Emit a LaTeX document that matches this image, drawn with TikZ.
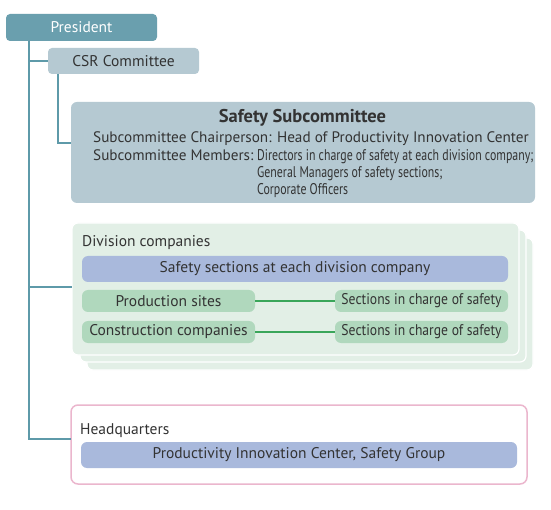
\documentclass[tikz,border=0pt]{standalone}
\usepackage{fontspec}
\setmainfont{PT Sans}
\usetikzlibrary{calc}
\definecolor{presC}{HTML}{6A9FAE}
\definecolor{csrC}{HTML}{B5C9D2}
\definecolor{lineC}{HTML}{5E9AA9}
\definecolor{stackC}{HTML}{E2EFE6}
\definecolor{blueC}{HTML}{A9B9DC}
\definecolor{greenC}{HTML}{B0D8BD}
\definecolor{glineC}{HTML}{3AA65A}
\definecolor{pinkC}{HTML}{EBB6CD}
\definecolor{txtC}{HTML}{333333}
\newcommand\cond[1]{\scalebox{0.765}[1]{#1}}
\newcommand\condb[1]{\scalebox{0.88}[1]{#1}}
\begin{document}
\begin{tikzpicture}[x=1pt,y=-1pt,
  font=\fontsize{15.5}{18}\selectfont, text=txtC,
  box/.style={rounded corners=4pt, inner sep=0pt, outer sep=0pt, anchor=north west},
  stackbox/.style={box, rounded corners=6pt, fill=stackC, draw=white, line width=1.2pt, minimum height=132pt},
  conn/.style={draw=lineC, line width=1.2pt},
  gconn/.style={draw=glineC, line width=1.2pt},
  lbl/.style={inner sep=0pt, anchor=base west}]
\useasboundingbox (0,0) rectangle (551,510);
\fill[white] (0,0) rectangle (551,510);

% top
\node[box, fill=presC, text=white, minimum width=151pt, minimum height=27pt] (pres) at (6,14) {President};
\node[box, fill=csrC, minimum width=151pt, minimum height=26pt] (csr) at (48,48) {CSR Committee};

% safety subcommittee
\node[box, rounded corners=6pt, fill=csrC, minimum width=464pt, minimum height=101pt] (sub) at (71,102) {};
\node[inner sep=0pt, anchor=base, font=\fontsize{18.5}{21}\selectfont\bfseries] (subt) at (302.5,123) {Safety Subcommittee};
\node[lbl, font=\fontsize{15.2}{18}\selectfont] (chair) at (93,143) {Subcommittee Chairperson: Head of Productivity Innovation Center};
\node[lbl, font=\fontsize{15.2}{18}\selectfont] (memb) at (93,161) {Subcommittee Members:};
\node[lbl] (m1) at (257,161) {\cond{Directors in charge of safety at each division company;}};
\node[lbl] (m2) at (257,178) {\cond{General Managers of safety sections;}};
\node[lbl] (m3) at (257,195) {\cond{Corporate Officers}};

% division companies
\node[stackbox, minimum width=446pt] (div3) at (87,238) {};
\node[stackbox, minimum width=446pt] (div2) at (80,230) {};
\node[stackbox, minimum width=447pt] (div) at (72,223) {};
\node[lbl] (divl) at (82,247) {Division companies};
\node[box, fill=blueC, rounded corners=6pt, minimum width=426pt, minimum height=26pt] (ssec) at (82,256) {Safety sections at each division company};
\node[box, fill=greenC, rounded corners=6pt, minimum width=173pt, minimum height=22pt] (prod) at (82,290) {Production sites};
\node[box, fill=greenC, rounded corners=6pt, minimum width=173pt, minimum height=22pt] (sec1) at (335,290) {\condb{Sections in charge of safety}};
\node[box, fill=greenC, rounded corners=6pt, minimum width=173pt, minimum height=22pt] (cons) at (82,321) {Construction companies};
\node[box, fill=greenC, rounded corners=6pt, minimum width=173pt, minimum height=22pt] (sec2) at (335,321) {\condb{Sections in charge of safety}};
\draw[gconn] (prod.east) -- (sec1.west);
\draw[gconn] (cons.east) -- (sec2.west);

% headquarters
\node[box, rounded corners=7pt, draw=pinkC, line width=1.5pt, fill=white, minimum width=456pt, minimum height=79pt] (hq) at (71,405) {};
\node[lbl] (hql) at (80,434) {Headquarters};
\node[box, fill=blueC, rounded corners=6pt, minimum width=436pt, minimum height=26pt] (pic) at (81,442) {Productivity Innovation Center, Safety Group};

% connectors
\draw[conn] ([xshift=23pt]pres.south west) |- (csr.west);
\draw[conn] ([xshift=23pt]pres.south west) |- ([yshift=2pt]div.west);
\draw[conn] ([xshift=23pt]pres.south west) |- ([yshift=5.5pt]hq.west);
\draw[conn] ([xshift=10pt]csr.south west) |- ([yshift=9.5pt]sub.west);
\end{tikzpicture}
\end{document}
